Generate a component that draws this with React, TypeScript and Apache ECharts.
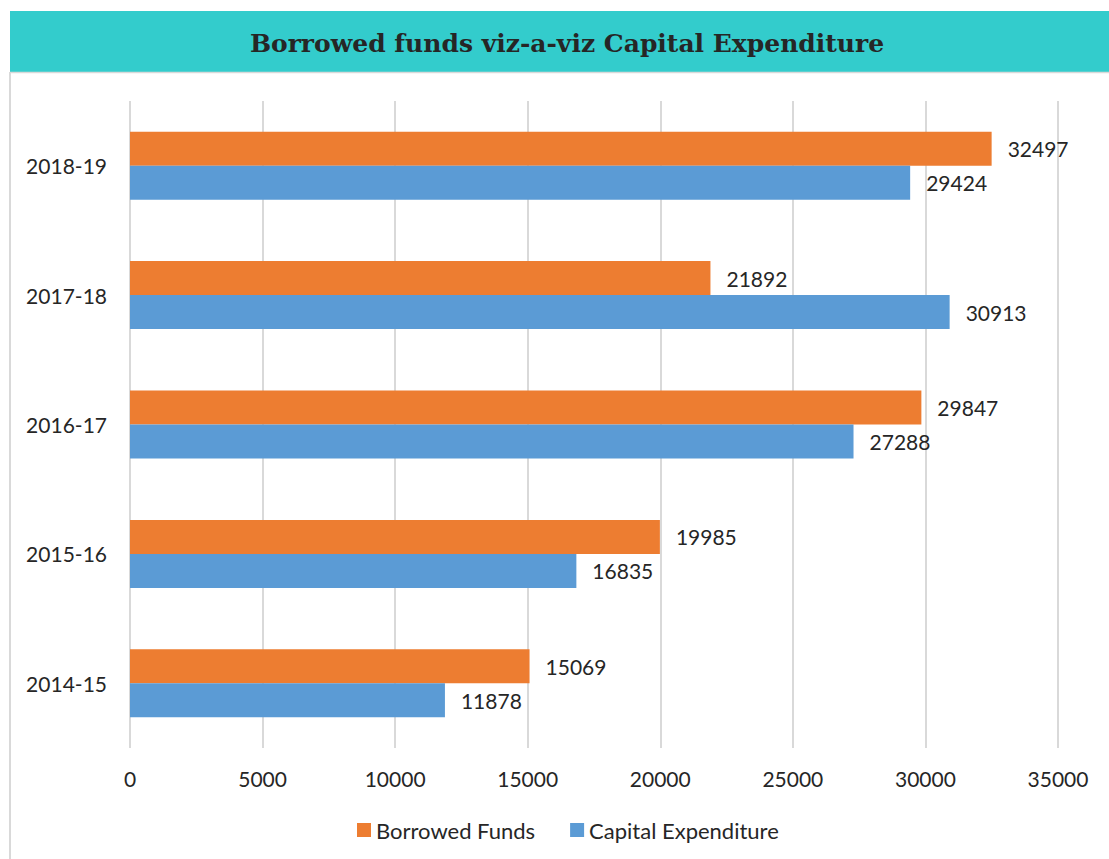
import React, { useEffect, useRef } from "react";
import * as echarts from "echarts";

const categories = ["2014-15", "2015-16", "2016-17", "2017-18", "2018-19"];
const borrowedFunds = [15069, 19985, 29847, 21892, 32497];
const capitalExpenditure = [11878, 16835, 27288, 30913, 29424];
const titleText = "Borrowed funds viz-a-viz Capital Expenditure";
const seriesNames = ["Borrowed Funds", "Capital Expenditure"];

const FONT = "Lato, 'Open Sans', sans-serif";

export default function App() {
  const ref = useRef<HTMLDivElement>(null);
  useEffect(() => {
    document.body.style.margin = "0";
    const chart = echarts.init(ref.current!, null, { renderer: "svg" });
    const labelCfg = {
      show: true,
      position: "right",
      distance: 16,
      fontFamily: FONT,
      fontSize: 21,
      color: "#262626",
    };
    chart.setOption({
      animation: false,
      backgroundColor: "#ffffff",
      graphic: [
        {
          type: "rect",
          left: 10,
          top: 11,
          shape: { width: 1099, height: 61 },
          style: { fill: "#33CCCC" },
          z: 0,
        },
        {
          type: "line",
          shape: { x1: 10, y1: 72.5, x2: 1109, y2: 72.5 },
          style: { stroke: "#D9D9D9", lineWidth: 1.5 },
        },
        {
          type: "line",
          shape: { x1: 10, y1: 72, x2: 10, y2: 859 },
          style: { stroke: "#D9D9D9", lineWidth: 2 },
        },
        {
          type: "text",
          x: 567,
          y: 43,
          style: {
            text: titleText,
            fill: "#262626",
            font: "bold 25px 'DejaVu Serif', serif",
            align: "center",
            verticalAlign: "middle",
          },
          z: 10,
        },
      ],
      legend: {
        data: seriesNames,
        bottom: 13,
        left: 352,
        itemWidth: 14,
        itemHeight: 14,
        itemGap: 35,
        icon: "rect",
        textStyle: { fontFamily: FONT, fontSize: 22, color: "#262626" },
      },
      grid: { left: 130, right: 51, top: 101, bottom: 111, containLabel: false },
      xAxis: {
        type: "value",
        min: 0,
        max: 35000,
        interval: 5000,
        axisLine: { show: false },
        axisTick: { show: false },
        splitLine: { lineStyle: { color: "#D9D9D9", width: 2 } },
        axisLabel: {
          fontFamily: FONT,
          fontSize: 21,
          color: "#262626",
          margin: 20,
          formatter: (v: number) => String(v),
        },
      },
      yAxis: {
        type: "category",
        data: categories,
        axisLine: { show: false },
        axisTick: { show: false },
        axisLabel: { fontFamily: FONT, fontSize: 21, color: "#262626", margin: 23 },
      },
      series: [
        {
          name: "Borrowed Funds",
          type: "bar",
          data: borrowedFunds,
          barWidth: 34,
          barGap: "0%",
          itemStyle: { color: "#ED7D31" },
          label: labelCfg,
        },
        {
          name: "Capital Expenditure",
          type: "bar",
          data: capitalExpenditure,
          barWidth: 34,
          barGap: "0%",
          itemStyle: { color: "#5B9BD5" },
          label: labelCfg,
        },
      ],
    });
    return () => chart.dispose();
  }, []);
  return <div ref={ref} style={{ width: 1109, height: 859 }} />;
}
